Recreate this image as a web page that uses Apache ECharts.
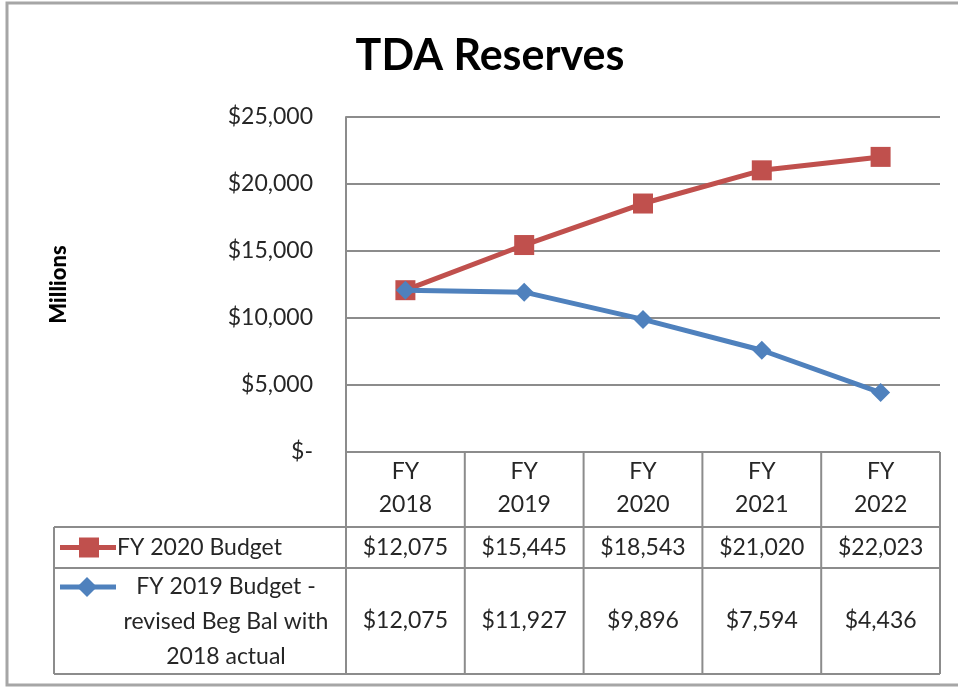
<!DOCTYPE html>
<html><head><meta charset="utf-8">
<script src="https://cdn.jsdelivr.net/npm/echarts@6/dist/echarts.min.js"></script>
<style>html,body{margin:0;padding:0;background:#fff}#c{width:958px;height:687px}</style>
</head><body><div id="c"></div>
<script>
// ---- data ----
const categories = ['FY 2018', 'FY 2019', 'FY 2020', 'FY 2021', 'FY 2022'];
const budget2020 = [12075, 15445, 18543, 21020, 22023];
const budget2019Revised = [12075, 11927, 9896, 7594, 4436];
const seriesNames = ['FY 2020 Budget', 'FY 2019 Budget - revised Beg Bal with 2018 actual'];
const legendLines2 = ['FY 2019 Budget -', 'revised Beg Bal with', '2018 actual'];
const yMin = 0, yMax = 25000, yInterval = 5000;
const titleText = 'TDA Reserves';
const yAxisName = 'Millions';

// ---- styles ----
const FONT = 'Lato, "Open Sans", sans-serif';
const RED = '#C0504D', BLUE = '#4F81BD', GRID = '#8c8c8c', TXT = '#262626';
const fmt = v => v === 0 ? '$-' : '$' + v.toLocaleString('en-US');

const chart = echarts.init(document.getElementById('c'), null, {renderer: 'canvas'});
chart.setOption({
  animation: false,
  backgroundColor: '#fff',
  title: {
    text: titleText, left: 490, top: 35, textAlign: 'center', padding: 0,
    textStyle: {fontFamily: FONT, fontWeight: 'bold', fontSize: 43, color: '#000'}
  },
  grid: {left: 346, right: 18, top: 117, bottom: 235, containLabel: false},
  xAxis: {
    type: 'category', data: categories, boundaryGap: true,
    axisLine: {show: false}, axisTick: {show: false}, axisLabel: {show: false}, splitLine: {show: false}
  },
  yAxis: {
    type: 'value', min: yMin, max: yMax, interval: yInterval,
    name: yAxisName, nameLocation: 'middle', nameRotate: 90, nameGap: 276,
    nameTextStyle: {fontFamily: FONT, fontWeight: 900, fontSize: 22, color: '#000'},
    axisLine: {show: true, lineStyle: {color: GRID, width: 2}},
    axisTick: {show: false},
    axisLabel: {fontFamily: FONT, fontSize: 23, color: TXT, margin: 33, formatter: fmt},
    splitLine: {show: true, lineStyle: {color: GRID, width: 2}}
  },
  series: [
    {name: seriesNames[0], type: 'line', data: budget2020, symbol: 'rect', symbolSize: 20,
     lineStyle: {color: RED, width: 5}, itemStyle: {color: RED}, z: 3},
    {name: seriesNames[1], type: 'line', data: budget2019Revised, symbol: 'diamond', symbolSize: 19,
     lineStyle: {color: BLUE, width: 5}, itemStyle: {color: BLUE}, z: 4}
  ]
});

// ---- data table under the plot, positioned from the axis scales ----
const xs = categories.map((c, i) => chart.convertToPixel({xAxisIndex: 0}, i));
const band = xs[1] - xs[0];
const bounds = [xs[0] - band / 2].concat(xs.map(x => x + band / 2));
const yTop = chart.convertToPixel({yAxisIndex: 0}, yMin);
const hHeader = 75, hRow1 = 41, hRow2 = 106;
const yH = yTop + hHeader, yR1 = yH + hRow1, yR2 = yR1 + hRow2;
const legendLeft = 54;
const L = (x1, y1, x2, y2) => ({type: 'line', shape: {x1, y1, x2, y2}, style: {stroke: GRID, lineWidth: 2}, z: 10});
const T = (text, x, y, extra) => ({type: 'text', z: 11, style: Object.assign({
  text, x, y, font: '23px ' + FONT, fill: TXT, align: 'center', verticalAlign: 'middle',
  textAlign: 'center', textVerticalAlign: 'middle'}, extra || {})});
const g = [];
// outer frame
g.push({type: 'rect', shape: {x: 7, y: 3, width: 980, height: 682}, style: {fill: 'none', stroke: '#a6a6a6', lineWidth: 3}, z: 1});
// table lines
g.push(L(bounds[0], yTop, bounds[5], yTop));
bounds.forEach(b => g.push(L(b, yTop, b, yR2)));
[yH, yR1, yR2].forEach(y => g.push(L(legendLeft, y, bounds[5], y)));
g.push(L(legendLeft, yH, legendLeft, yR2));
// header texts
categories.forEach((c, i) => {
  const parts = c.split(' ');
  g.push(T(parts[0], xs[i], yTop + 20));
  g.push(T(parts[1], xs[i], yTop + 53));
});
// values
budget2020.forEach((v, i) => g.push(T(fmt(v), xs[i], (yH + yR1) / 2)));
budget2019Revised.forEach((v, i) => g.push(T(fmt(v), xs[i], (yR1 + yR2) / 2)));
// legend keys
const r1y = (yH + yR1) / 2, r2y = yR1 + 19;
g.push({type: 'line', shape: {x1: 60, y1: r1y, x2: 116, y2: r1y}, style: {stroke: RED, lineWidth: 5}, z: 11});
g.push({type: 'rect', shape: {x: 79, y: r1y - 10, width: 20, height: 20}, style: {fill: RED}, z: 12});
g.push(T(seriesNames[0], 117, r1y, {align: 'left', textAlign: 'left'}));
g.push({type: 'line', shape: {x1: 60, y1: r2y, x2: 116, y2: r2y}, style: {stroke: BLUE, lineWidth: 5}, z: 11});
g.push({type: 'polygon', shape: {points: [[87, r2y - 10], [97, r2y], [87, r2y + 10], [77, r2y]]}, style: {fill: BLUE}, z: 12});
legendLines2.forEach((t, k) => g.push(T(t, 226, r2y + k * 35)));
chart.setOption({graphic: g});
</script></body></html>
